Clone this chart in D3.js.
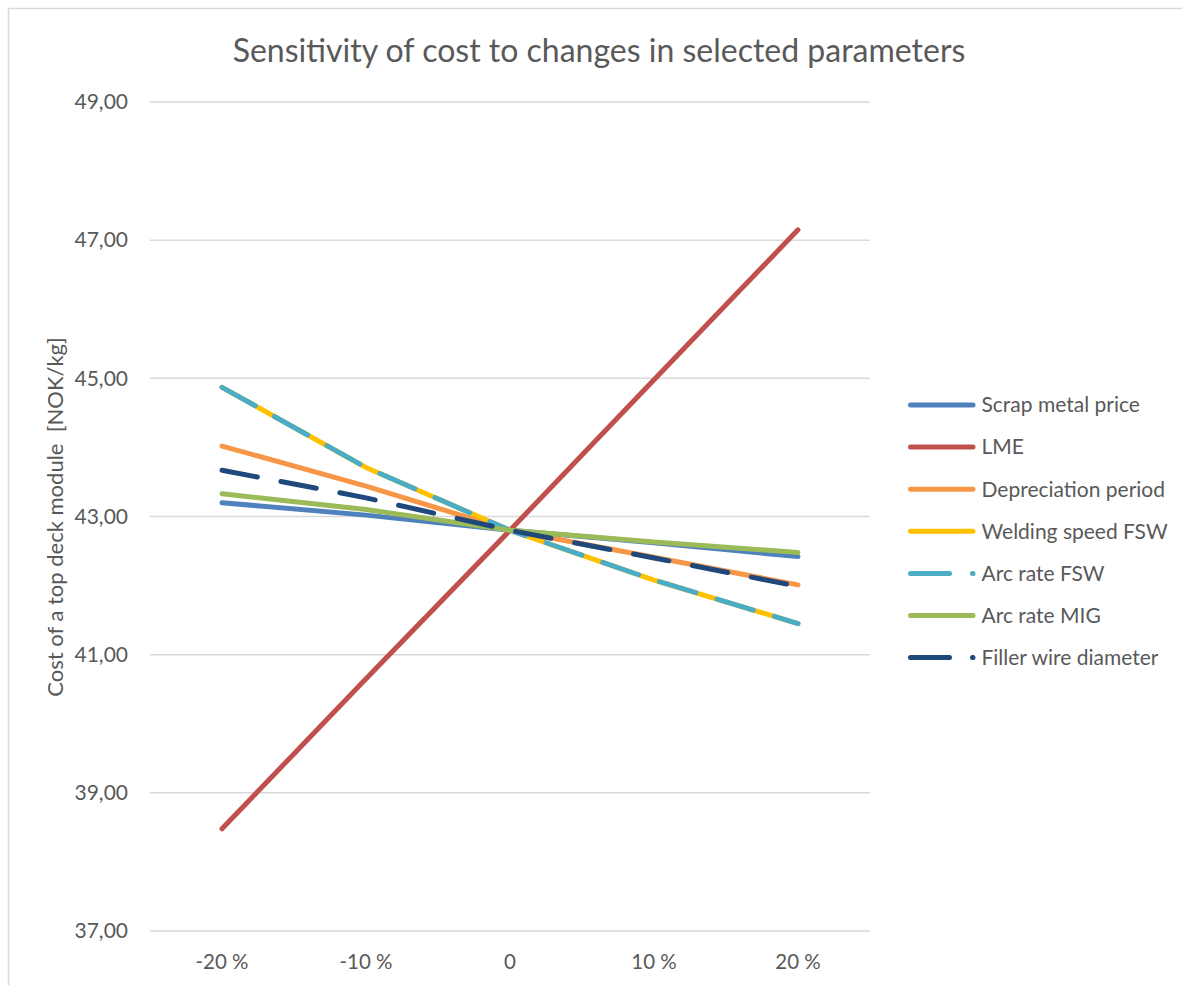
<!DOCTYPE html>
<html>
<head>
<meta charset="utf-8">
<script src="https://cdn.jsdelivr.net/npm/d3@7"></script>
<style>
  html, body { margin: 0; padding: 0; background: #fff; }
  svg { display: block; }
  text { font-family: Lato, "Liberation Sans", sans-serif; fill: #595959; }
</style>
</head>
<body>
<svg id="chart" width="1182" height="985"></svg>
<script>
// Change in parameter (x categories)
const categories = ["-20 %", "-10 %", "0", "10 %", "20 %"];

// Cost of a top deck module [NOK/kg] for each parameter change
const scrapMetalPrice   = [43.20, 43.02, 42.80, 42.62, 42.42];
const lme               = [38.48, 40.65, 42.80, 44.98, 47.15];
const depreciation      = [44.02, 43.44, 42.80, 42.41, 42.01];
const weldingSpeedFSW   = [44.87, 43.71, 42.80, 42.08, 41.45];
const arcRateFSW        = [44.87, 43.71, 42.80, 42.08, 41.45];
const arcRateMIG        = [43.33, 43.10, 42.80, 42.63, 42.48];
const fillerWire        = [43.67, 43.27, 42.80, 42.40, 41.99];

const yTicks = [37, 39, 41, 43, 45, 47, 49];

const series = [
  { name: "Scrap metal price",    values: scrapMetalPrice, color: "#4f81bd", dash: null },
  { name: "LME",                  values: lme,             color: "#c0504d", dash: null },
  { name: "Depreciation period",  values: depreciation,    color: "#f79646", dash: null },
  { name: "Welding speed FSW",    values: weldingSpeedFSW, color: "#ffc000", dash: null },
  { name: "Arc rate FSW",         values: arcRateFSW,      color: "#4bacc6", dash: "38,22" },
  { name: "Arc rate MIG",         values: arcRateMIG,      color: "#9bbb59", dash: null },
  { name: "Filler wire diameter", values: fillerWire,      color: "#1f497d", dash: "36,24" }
];

const svg = d3.select("#chart");

// chart frame
svg.append("rect")
  .attr("x", 8.5).attr("y", 8.5)
  .attr("width", 1200).attr("height", 1000)
  .attr("fill", "#fff").attr("stroke", "#d9d9d9").attr("stroke-width", 1.5);

const x = d3.scaleBand().domain(categories).range([150, 870]).padding(0);
const y = d3.scaleLinear().domain([37, 49]).range([931, 102]);

// title
svg.append("text")
  .attr("x", 599).attr("y", 62)
  .attr("text-anchor", "middle")
  .style("font-size", "32px")
  .text("Sensitivity of cost to changes in selected parameters");

// horizontal gridlines
svg.append("g")
  .selectAll("line")
  .data(yTicks)
  .join("line")
  .attr("x1", 150).attr("x2", 870)
  .attr("y1", d => y(d)).attr("y2", d => y(d))
  .attr("stroke", "#d9d9d9").attr("stroke-width", 1.5);

// y axis labels
const yAxis = d3.axisLeft(y)
  .tickValues(yTicks)
  .tickSize(0)
  .tickPadding(0)
  .tickFormat(d => d3.format(".2f")(d).replace(".", ","));
const gy = svg.append("g").attr("transform", "translate(128,0)").call(yAxis);
gy.select(".domain").remove();
gy.selectAll("text")
  .style("font-size", "21px")
  .attr("fill", "#595959")
  .style("font-family", "Lato, 'Liberation Sans', sans-serif");

// x axis labels
const xAxis = d3.axisBottom(x).tickSize(0).tickPadding(0);
const gx = svg.append("g").attr("transform", "translate(0,954)").call(xAxis);
gx.select(".domain").remove();
gx.selectAll("text")
  .style("font-size", "20.5px")
  .attr("fill", "#595959")
  .style("font-family", "Lato, 'Liberation Sans', sans-serif");

// y axis title
svg.append("text")
  .attr("transform", "translate(63,517) rotate(-90)")
  .attr("text-anchor", "middle")
  .attr("xml:space", "preserve")
  .style("white-space", "pre")
  .style("font-size", "22px")
  .text("Cost of a top deck module  [NOK/kg]");

// lines
const line = d3.line()
  .x((d, i) => x(categories[i]) + x.bandwidth() / 2)
  .y(d => y(d));

svg.append("g")
  .selectAll("path")
  .data(series)
  .join("path")
  .attr("d", d => line(d.values))
  .attr("fill", "none")
  .attr("stroke", d => d.color)
  .attr("stroke-width", 5)
  .attr("stroke-linecap", "round")
  .attr("stroke-linejoin", "round")
  .attr("stroke-dasharray", d => d.dash);

// legend
const legend = svg.append("g")
  .selectAll("g")
  .data(series)
  .join("g")
  .attr("transform", (d, i) => `translate(910.5,${405 + i * 42.1})`);

legend.append("line")
  .attr("x1", 0).attr("x2", 62.5)
  .attr("y1", 0).attr("y2", 0)
  .attr("stroke", d => d.color)
  .attr("stroke-width", 5)
  .attr("stroke-linecap", "round")
  .attr("stroke-dasharray", d => d.dash ? "39,23" : null);

legend.append("text")
  .attr("x", 71).attr("y", 0)
  .attr("dy", "0.35em")
  .style("font-size", "21px")
  .text(d => d.name);
</script>
</body>
</html>
